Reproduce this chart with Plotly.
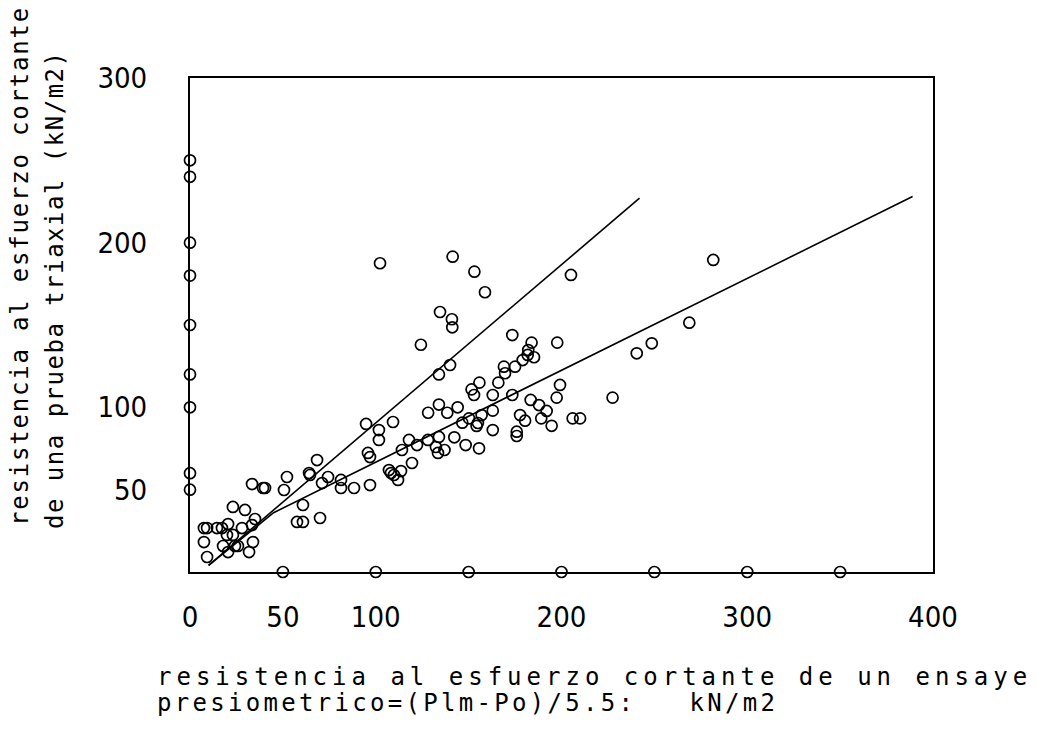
import plotly.graph_objects as go

# ---- data ----
# points lying on the left axis (x = 0)
axis_left_y = [250, 240, 200, 180, 150, 120, 100, 60, 50]
# points lying on the bottom axis (y = 0)
axis_bottom_x = [50, 100, 150, 200, 250, 300, 350]

# main scatter: pressuremeter shear strength (x) vs triaxial shear strength (y)
pres_x = [134.6, 141.0, 124.3, 134.0, 140.0, 128.2, 134.0, 138.5, 94.8, 101.7,
          101.7, 109.3, 117.9, 122.2, 128.1, 134.0, 132.4, 133.5, 137.0, 114.1,
          95.8, 96.9, 119.5, 107.1, 108.2, 109.8, 113.6, 112.0, 96.9, 88.3,
          81.3, 81.3, 74.3, 71.1, 68.4, 64.1, 64.6, 52.2, 50.6, 60.8,
          70.0, 57.6, 60.8, 33.4, 39.3, 40.4, 23.1, 29.6, 35.0, 33.4,
          7.5, 9.2, 14.5, 17.2, 20.5, 28.0, 19.9, 23.1, 7.5, 17.8,
          24.2, 25.8, 33.9, 20.5, 31.8, 9.2,
          141.4, 153.1, 158.8, 141.2, 205.1, 173.5, 183.9, 197.7, 182.1, 181.8,
          179.1, 185.2, 175.0, 169.0, 169.6, 166.0, 155.8, 151.6, 152.9, 163.0,
          173.5, 199.2, 197.4, 183.4, 187.9, 192.0, 177.7, 180.4, 189.1, 194.7,
          206.0, 210.0, 227.5, 240.5, 248.6, 268.8, 163.0, 157.0, 154.3, 155.0,
          150.2, 146.6, 144.1, 163.0, 175.9, 175.9, 142.3, 148.4, 155.6, 281.7,
          102.3]
triax_y = [157.9, 153.5, 138.0, 120.0, 125.7, 96.7, 101.7, 96.7, 89.9, 86.2,
           80.2, 91.1, 80.2, 77.1, 80.2, 82.0, 75.9, 72.3, 74.1, 74.1,
           72.3, 69.8, 66.2, 61.9, 60.1, 58.9, 61.3, 55.9, 52.8, 51.0,
           55.9, 51.0, 57.7, 54.0, 68.0, 60.1, 58.9, 57.7, 49.8, 40.7,
           32.8, 30.4, 30.4, 53.4, 51.0, 51.0, 39.5, 37.7, 32.2, 28.5,
           26.7, 26.7, 26.7, 26.7, 29.1, 26.7, 22.5, 22.5, 18.2, 15.8,
           15.8, 15.8, 18.2, 12.1, 12.1, 9.1,
           191.5, 182.4, 169.9, 148.6, 180.4, 143.9, 139.3, 139.3, 134.8, 131.8,
           128.7, 130.4, 124.7, 124.7, 120.7, 115.0, 115.0, 110.9, 107.5, 107.5,
           107.5, 113.6, 105.9, 104.5, 101.4, 97.8, 95.3, 91.9, 93.3, 88.8,
           93.3, 93.3, 105.9, 132.8, 138.9, 151.4, 98.0, 95.3, 88.7, 90.5,
           93.3, 90.7, 100.0, 86.2, 85.2, 82.6, 81.8, 77.1, 75.1, 189.5,
           187.5]

# fitted lines
line1_x = [10, 242]
line1_y = [4, 227]
line2_x = [10, 45, 389]
line2_y = [4, 36, 228]

# ticks
x_tickvals = [0, 50, 100, 200, 300, 400]
x_ticktext = ["0", "50", "100", "200", "300", "400"]
y_tickvals = [50, 100, 200, 300]
y_ticktext = ["50", "100", "200", "300"]

# titles
x_title_1 = "resistencia al esfuerzo cortante de un ensaye"
x_title_2 = "presiometrico=(Plm-Po)/5.5:   kN/m2"
y_title_1 = "resistencia al esfuerzo cortante"
y_title_2 = "de una prueba triaxial (kN/m2)"

all_x = [0] * len(axis_left_y) + axis_bottom_x + pres_x
all_y = axis_left_y + [0] * len(axis_bottom_x) + triax_y

fig = go.Figure()
fig.add_trace(go.Scatter(x=line1_x, y=line1_y, mode="lines",
                         line=dict(color="black", width=1.6), hoverinfo="skip"))
fig.add_trace(go.Scatter(x=line2_x, y=line2_y, mode="lines",
                         line=dict(color="black", width=1.6), hoverinfo="skip"))
fig.add_trace(go.Scatter(x=all_x, y=all_y, mode="markers", cliponaxis=False,
                         marker=dict(symbol="circle-open", size=11, color="black",
                                     line=dict(width=1.7, color="black"))))

tick_font = dict(family="DejaVu Sans Condensed, Liberation Sans Narrow, DejaVu Sans",
                 size=29, color="black", weight=300)
title_font = dict(family="DejaVu Sans Mono", size=24, color="black")

fig.update_layout(
    width=1038, height=731,
    margin=dict(l=190, r=105, t=78, b=159),
    paper_bgcolor="white", plot_bgcolor="white",
    showlegend=False,
)
fig.update_xaxes(range=[0, 400], tickvals=x_tickvals, ticktext=x_ticktext,
                 showgrid=False, zeroline=False, showline=True, mirror=True,
                 linecolor="black", linewidth=2, ticks="",
                 ticklabelstandoff=18, tickfont=tick_font)
fig.update_yaxes(range=[0, 300], tickvals=y_tickvals, ticktext=y_ticktext,
                 showgrid=False, zeroline=False, showline=True, mirror=True,
                 linecolor="black", linewidth=2, ticks="",
                 ticklabelstandoff=35, tickfont=tick_font)

# plot area: x 190..933 px, y 78..572 px
def px_x(p):
    return (p - 190) / 743.0

def px_y(p):
    return (572 - p) / 494.0

def spaced(t, s):
    return '<span style="letter-spacing:%spx">%s</span>' % (s, t)

fig.add_annotation(text=spaced(x_title_1, 5), xref="paper", yref="paper",
                   x=px_x(155), y=px_y(677), xanchor="left", yanchor="middle",
                   showarrow=False, font=title_font)
fig.add_annotation(text=spaced(x_title_2, 3.3), xref="paper", yref="paper",
                   x=px_x(155), y=px_y(703), xanchor="left", yanchor="middle",
                   showarrow=False, font=title_font)
fig.add_annotation(text=spaced(y_title_1, 1.8), xref="paper", yref="paper",
                   x=px_x(20), y=px_y(528), xanchor="center", yanchor="bottom",
                   textangle=-90, showarrow=False, font=title_font)
fig.add_annotation(text=spaced(y_title_2, 1.5), xref="paper", yref="paper",
                   x=px_x(55), y=px_y(531), xanchor="center", yanchor="bottom",
                   textangle=-90, showarrow=False, font=title_font)

fig.write_html("out.html")
